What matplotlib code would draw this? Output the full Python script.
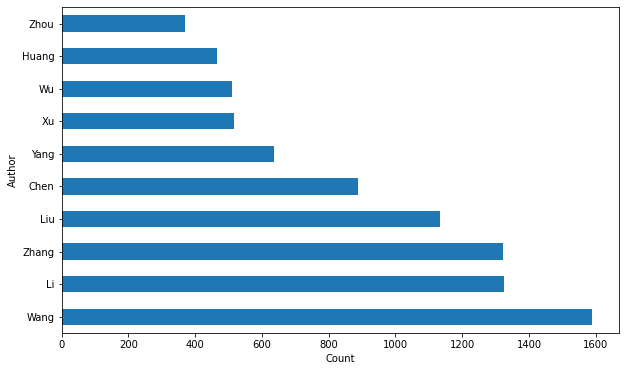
import matplotlib
matplotlib.use("Agg")
import matplotlib.pyplot as plt
import pandas as pd

authors = ["Wang", "Li", "Zhang", "Liu", "Chen", "Yang", "Xu", "Wu", "Huang", "Zhou"]
counts = [1590, 1326, 1323, 1134, 888, 637, 517, 511, 466, 370]

s = pd.Series(counts, index=pd.Index(authors, name="Author"))

fig = plt.figure(figsize=(626 / 72, 371 / 72), dpi=72)
ax = fig.add_axes([61.5 / 626, 1 - 333 / 371, (619 - 61.5) / 626, (333 - 7.3) / 371])
s.plot.barh(ax=ax, color="#1f77b4")
ax.set_xlabel("Count")
ax.set_ylabel("Author")

plt.savefig("out.png", dpi=72)
